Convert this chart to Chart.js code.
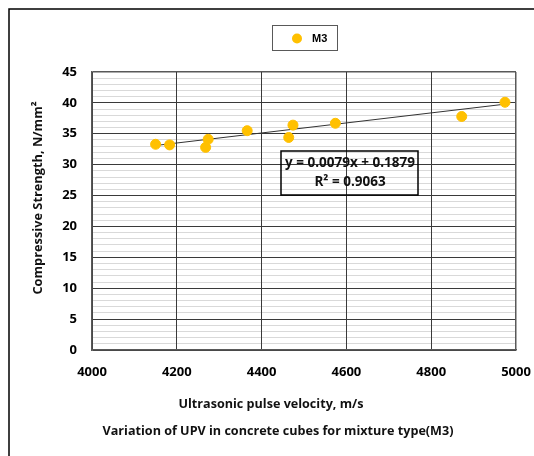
<!DOCTYPE html>
<html><head><meta charset="utf-8">
<script src="https://cdn.jsdelivr.net/npm/chart.js@4.4.0/dist/chart.umd.min.js"></script>
<style>html,body{margin:0;padding:0;background:#fff;overflow:hidden}#wrap{width:534px;height:456px;position:relative}</style>
</head><body><div id="wrap"><canvas id="c" width="534" height="456"></canvas></div>
<script>
// ---- data ----
const seriesName = 'M3';
const upv = [4150, 4183, 4274, 4268, 4366, 4474, 4464, 4574, 4872, 4974];
const strength = [33.3, 33.2, 34.1, 32.8, 35.5, 36.4, 34.4, 36.7, 37.8, 40.1];
const trendX = [4150, 4975];
const trendY = [33.1, 39.8];
const xTickValues = [4000, 4200, 4400, 4600, 4800, 5000];
const yTickValues = [0, 5, 10, 15, 20, 25, 30, 35, 40, 45];
const equationLine1 = 'y = 0.0079x + 0.1879';
const equationLine2 = 'R² = 0.9063';
const xTitle = 'Ultrasonic pulse velocity, m/s';
const yTitle = 'Compressive Strength, N/mm²';
const caption = 'Variation of UPV in concrete cubes for mixture type(M3)';

const FONT = '"Open Sans", "Liberation Sans", sans-serif';
const pts = upv.map((x, i) => ({x, y: strength[i]}));
const trend = trendX.map((x, i) => ({x, y: trendY[i]}));

const overlay = {
  id: 'overlay',
  afterDraw(chart) {
    const ctx = chart.ctx;
    ctx.save();
    ctx.strokeStyle = '#000'; ctx.lineWidth = 1.5;
    ctx.beginPath(); ctx.moveTo(9, 456); ctx.lineTo(9, 9); ctx.lineTo(534, 9); ctx.stroke();
    ctx.strokeStyle = '#595959'; ctx.lineWidth = 1;
    ctx.strokeRect(272.5, 25.5, 65, 25);
    ctx.fillStyle = '#FFC000';
    ctx.beginPath(); ctx.arc(297, 38.5, 5, 0, Math.PI * 2); ctx.fill();
    ctx.fillStyle = '#000'; ctx.font = 'bold 11px "Liberation Sans", Arial, sans-serif';
    ctx.textAlign = 'left'; ctx.textBaseline = 'middle';
    ctx.fillText(chart.data.datasets[0].label, 312, 39);
    ctx.strokeStyle = '#000'; ctx.lineWidth = 1.5;
    ctx.strokeRect(281, 151, 137, 44);
    ctx.fillStyle = '#111'; ctx.textAlign = 'center';
    ctx.font = 'bold 13.5px ' + FONT;
    ctx.fillText(equationLine1, 350, 163);
    ctx.fillText(equationLine2, 350, 182);
    ctx.font = 'bold 12.6px ' + FONT;
    ctx.fillText(xTitle, 271, 404);
    ctx.fillText(caption, 278, 431);
    ctx.save();
    ctx.translate(38, 198); ctx.rotate(-Math.PI / 2);
    ctx.font = 'bold 12.8px ' + FONT;
    ctx.fillText(yTitle, 0, 0);
    ctx.restore();
    ctx.restore();
  }
};

new Chart(document.getElementById('c'), {
  type: 'scatter',
  data: {
    datasets: [
      {label: seriesName, data: pts, backgroundColor: '#FFC000', borderColor: '#FFC000',
       pointRadius: 5, pointHoverRadius: 5, order: 1},
      {label: 'trend', type: 'line', data: trend, borderColor: '#333', borderWidth: 1,
       pointRadius: 0, fill: false, showLine: true, order: 2}
    ]
  },
  options: {
    responsive: false, animation: false, devicePixelRatio: 1,
    layout: {padding: {left: 0, top: 72, right: 18, bottom: 0}},
    plugins: {legend: {display: false}, tooltip: {enabled: false}},
    scales: {
      x: {
        type: 'linear', min: 4000, max: 5000,
        afterFit(s) { s.height = 106; s.paddingLeft = 0; s.paddingRight = 0; },
        afterBuildTicks(s) { s.ticks = xTickValues.map(v => ({value: v})); },
        ticks: {padding: 14, color: '#000', font: {family: FONT, size: 13, weight: 'bold'}, autoSkip: false, maxRotation: 0,
                callback: v => String(v)},
        grid: {z: -1, drawTicks: false, color: c => c.tick && c.tick.value === 5000 ? '#595959' : '#3a3a3a',
               lineWidth: c => c.tick && c.tick.value === 5000 ? 1.5 : 1},
        border: {color: '#595959', width: 1.5}
      },
      y: {
        type: 'linear', min: 0, max: 45,
        afterFit(s) { s.width = 92; s.paddingTop = 0; s.paddingBottom = 0; },
        afterBuildTicks(s) { const t = []; for (let v = 0; v <= 45; v++) t.push({value: v}); s.ticks = t; },
        ticks: {padding: 15, color: '#000', font: {family: FONT, size: 13, weight: 'bold'}, autoSkip: false,
                callback: v => yTickValues.includes(v) ? String(v) : ''},
        grid: {z: -2, drawTicks: false,
               color: c => { const v = c.tick ? c.tick.value : 0; if (v === 45) return '#595959'; return yTickValues.includes(v) ? '#3a3a3a' : '#d9d9d9'; },
               lineWidth: c => { const v = c.tick ? c.tick.value : 0; return v === 45 ? 1.5 : 1; }},
        border: {color: '#595959', width: 1.5}
      }
    }
  },
  plugins: [overlay]
});
</script></body></html>
